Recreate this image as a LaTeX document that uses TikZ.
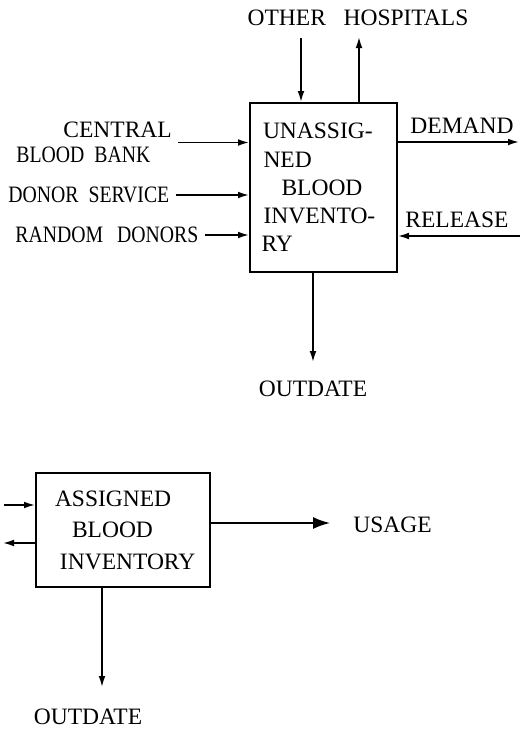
\documentclass[tikz,border=0pt]{standalone}
\usepackage{fontspec}
\setmainfont{Liberation Serif}
\newfontfamily\narrowfont[FakeStretch=0.84]{Liberation Serif}
\usetikzlibrary{arrows.meta}

\begin{document}
\begin{tikzpicture}[x=0.5pt,y=-0.5pt,
    every node/.style={font=\fontsize{11.75}{14.1}\selectfont},
    box/.style={draw,line width=1pt,align=left,inner sep=0pt},
    lbl/.style={inner sep=3pt},
    flow/.style={-{Latex[length=5.5pt,width=3.4pt]},line width=0.8pt},
    bigflow/.style={-{Latex[length=8.5pt,width=6pt]},line width=0.8pt}]
  \useasboundingbox (0,0) rectangle (520,729);
  \node[box,minimum width=73.5pt,minimum height=84.5pt,text width=62pt] (una) at (323.5,187.5)
    {\hspace*{0.75pt}UNASSIG-\\\hspace*{1pt}NED\\\hspace*{10pt}BLOOD\\\hspace*{1pt}INVENTO-\\RY};
  \node[lbl] (hosp) at (358,18) {OTHER\hspace{0.75em}HOSPITALS};
  \coordinate (hin) at (301,38);
  \coordinate (hout) at (359,37);
  \draw[flow] (hin) -- (hin |- una.north);
  \draw[flow] (hout |- una.north) -- (hout);
  \node[lbl,align=left,anchor=west,font=\fontsize{11.75}{12.5}\selectfont] (central) at (10,142.5)
    {\hspace*{2em}CENTRAL\\{\narrowfont BLOOD\hspace{5pt}BANK}};
  \node[lbl,anchor=west] (donor) at (2,195) {\narrowfont DONOR\hspace{5pt}SERVICE};
  \node[lbl,anchor=west] (random) at (9,235) {\narrowfont RANDOM\hspace{7pt}DONORS};
  \draw[flow] (central.east) -- (central.east -| una.west);
  \draw[flow] (donor.east) -- (donor.east -| una.west);
  \draw[flow] (random.east) -- (random.east -| una.west);
  \coordinate (dem) at (519,142);
  \draw[flow] (una.east |- dem) -- (dem);
  \node[lbl] (demand) at (462,126) {DEMAND};
  \coordinate (rel) at (520,236);
  \draw[flow] (rel) -- (rel -| una.east);
  \node[lbl] (release) at (457,220) {RELEASE};
  \coordinate (out1) at (313,362);
  \draw[flow] (out1 |- una.south) -- (out1);
  \node[lbl] (outdate1) at (313,389) {OUTDATE};
  \node[box,minimum width=87pt,minimum height=57pt,text width=74pt,
    font=\fontsize{11.75}{15.75}\selectfont] (asg) at (123,530)
    {\hspace*{3pt}ASSIGNED\\\hspace*{11.5pt}BLOOD\\\hspace*{5.5pt}INVENTORY};
  \coordinate (ain) at (4,505);
  \draw[flow] (ain) -- (ain -| asg.west);
  \coordinate (aout) at (3,543);
  \draw[flow] (aout -| asg.west) -- (aout);
  \coordinate (use) at (330,523);
  \draw[bigflow] (use -| asg.east) -- (use);
  \node[lbl,anchor=west] (usage) at (347,525) {USAGE};
  \coordinate (out2) at (102,687);
  \draw[flow] (out2 |- asg.south) -- (out2);
  \node[lbl] (outdate2) at (88,717) {OUTDATE};
\end{tikzpicture}
\end{document}
